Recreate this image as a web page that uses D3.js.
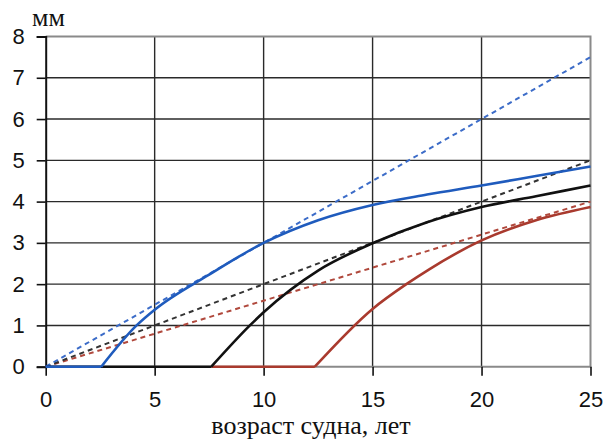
<!DOCTYPE html>
<html>
<head>
<meta charset="utf-8">
<script src="https://cdn.jsdelivr.net/npm/d3@7"></script>
<style>
  html, body { margin: 0; padding: 0; background: #fff; }
  svg { display: block; }
</style>
</head>
<body>
<svg id="chart" width="606" height="441"></svg>
<script>
// ---- data ----
const xTicks = [0, 5, 10, 15, 20, 25];
const yTicks = [0, 1, 2, 3, 4, 5, 6, 7, 8];
const yUnitLabel = "мм";
const xAxisLabel = "возраст судна, лет";

// dashed straight lines (age, mm)
const blueDashed  = [[0, 0], [25, 7.5]];
const blackDashed = [[0, 0], [25, 5.0]];
const redDashed   = [[0, 0], [25, 4.0]];

// solid curves: flat part (age, mm) then rising part (age, mm)
const blueFlat   = [[0, 0], [2.55, 0]];
const blueRise   = [[2.55, 0], [4.17, 1.0], [5, 1.38], [7.5, 2.23], [10, 3.0], [12.5, 3.55], [15, 3.92], [17.5, 4.17], [20, 4.39], [22.5, 4.62], [25, 4.85]];
const blackFlat  = [[0, 0], [7.6, 0]];
const blackRise  = [[7.6, 0], [9.37, 1.0], [10, 1.32], [12.5, 2.33], [15, 2.99], [17.5, 3.5], [20, 3.87], [22.5, 4.13], [25, 4.39]];
const redFlat    = [[7.6, 0], [12.35, 0]];
const redRise    = [[12.35, 0], [15, 1.4], [16.55, 2.0], [17.6, 2.36], [20, 3.06], [22.5, 3.55], [25, 3.87]];

// ---- layout ----
const svg = d3.select("#chart");
const L = 45.7, R = 590.5, T = 36.5, B = 366.7;
const x = d3.scaleLinear().domain([0, 25]).range([L, R]);
const y = d3.scaleLinear().domain([0, 8]).range([B, T]);

// grid
const g = svg.append("g");
g.selectAll("line.hgrid").data(yTicks.filter(d => d > 0 && d < 8)).join("line")
  .attr("x1", L).attr("x2", R).attr("y1", d => y(d)).attr("y2", d => y(d))
  .attr("stroke", "#2a2a2a").attr("stroke-width", 1.4);
g.selectAll("line.vgrid").data(xTicks.filter(d => d > 0 && d < 25)).join("line")
  .attr("y1", T).attr("y2", B).attr("x1", d => x(d)).attr("x2", d => x(d))
  .attr("stroke", "#2a2a2a").attr("stroke-width", 1.4);

// frame (top, right, bottom gray)
g.append("path")
  .attr("d", `M${L},${T}H${R}V${B}H${L}`)
  .attr("fill", "none").attr("stroke", "#8a8a8a").attr("stroke-width", 2);

// y axis
const yAxis = d3.axisLeft(y).tickValues(yTicks).tickSize(9).tickPadding(10).tickFormat(d3.format("d"));
const ya = svg.append("g").attr("transform", `translate(${L},0)`).call(yAxis);
ya.select(".domain").attr("stroke", "#111").attr("stroke-width", 2);
ya.selectAll(".tick line").attr("stroke", "#111").attr("stroke-width", 1.6);
ya.selectAll(".tick text").attr("font-family", "Liberation Sans, Arial, sans-serif")
  .attr("font-size", 22).attr("fill", "#111").attr("x", -21);

// x axis
const xAxis = d3.axisBottom(x).tickValues(xTicks).tickSize(9).tickPadding(16).tickFormat(d3.format("d"));
const xa = svg.append("g").attr("transform", `translate(0,${B})`).call(xAxis);
xa.select(".domain").remove();
xa.selectAll(".tick line").attr("stroke", "#111").attr("stroke-width", 1.6);
xa.selectAll(".tick text").attr("font-family", "Liberation Sans, Arial, sans-serif")
  .attr("font-size", 22).attr("fill", "#111");

// labels
svg.append("text").attr("x", 32).attr("y", 26)
  .attr("font-family", "Liberation Serif, Times New Roman, serif")
  .attr("font-size", 26).attr("fill", "#111").text(yUnitLabel);
svg.append("text").attr("x", 311).attr("y", 434).attr("text-anchor", "middle")
  .attr("font-family", "Liberation Serif, Times New Roman, serif")
  .attr("font-size", 26).attr("fill", "#111").text(xAxisLabel);

// lines
const straight = d3.line().x(d => x(d[0])).y(d => y(d[1]));
const smooth = d3.line().x(d => x(d[0])).y(d => y(d[1])).curve(d3.curveMonotoneX);

const dashed = [
  { data: redDashed, color: "#b0483c" },
  { data: blackDashed, color: "#333333" },
  { data: blueDashed, color: "#3c6cc8" }
];
svg.append("g").selectAll("path").data(dashed).join("path")
  .attr("d", d => straight(d.data)).attr("fill", "none")
  .attr("stroke", d => d.color).attr("stroke-width", 2).attr("stroke-dasharray", "5,4");

const solid = [
  { flat: redFlat, rise: redRise, color: "#a93a2e" },
  { flat: blackFlat, rise: blackRise, color: "#111111" },
  { flat: blueFlat, rise: blueRise, color: "#1f5bbd" }
];
const sg = svg.append("g");
solid.forEach(s => {
  sg.append("path").attr("d", straight(s.flat) + smooth(s.rise)).attr("fill", "none")
    .attr("stroke", s.color).attr("stroke-width", 2.6).attr("stroke-linejoin", "round");
});
</script>
</body>
</html>
